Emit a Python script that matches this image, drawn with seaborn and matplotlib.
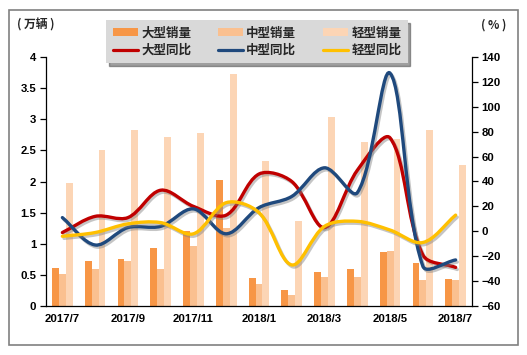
import numpy as np
import pandas as pd
import matplotlib
matplotlib.use('Agg')
import matplotlib.pyplot as plt
import matplotlib.patheffects as pe
from matplotlib.path import Path
from matplotlib.patches import PathPatch, Patch, Rectangle
from matplotlib.lines import Line2D
from matplotlib.ticker import FuncFormatter, MultipleLocator, FixedLocator
import seaborn as sns

# 月份
months = ['2017/7', '2017/8', '2017/9', '2017/10', '2017/11', '2017/12', '2018/1',
          '2018/2', '2018/3', '2018/4', '2018/5', '2018/6', '2018/7']

# 销量（万辆）
large_sales = [0.61, 0.72, 0.75, 0.93, 1.20, 2.02, 0.45, 0.25, 0.55, 0.59, 0.87, 0.69, 0.44]
medium_sales = [0.52, 0.60, 0.73, 0.60, 0.97, 1.25, 0.36, 0.17, 0.47, 0.47, 0.88, 0.42, 0.41]
light_sales = [1.98, 2.50, 2.82, 2.72, 2.78, 3.73, 2.33, 1.37, 3.03, 2.63, 2.69, 2.82, 2.27]

# 同比（%）
large_yoy = [-1, 12, 11, 33, 20, 13, 46, 40, 3, 49, 75, -19, -29]
medium_yoy = [11, -11, 3, 4, 18, -2, 19, 28, 51, 31, 127, -28, -23]
light_yoy = [-4, -1, 6, 7, -2, 23, 15, -27, 4, 8, 1, -9, 13]

sales_names = ['大型销量', '中型销量', '轻型销量']
yoy_names = ['大型同比', '中型同比', '轻型同比']
bar_colors = ['#F79646', '#FAC090', '#FCD5B5']
line_colors = ['#C00000', '#1F497D', '#FFC000']

sns.set_style('white')
plt.rcParams['font.family'] = ['Liberation Sans', 'Noto Sans CJK SC', 'DejaVu Sans']


def smooth_path(xs, ys, sx, sy, t=1/3):
    """Excel 风格的平滑曲线（三次贝塞尔），按屏幕比例计算控制点"""
    P = np.column_stack([np.asarray(xs, float) * sx, np.asarray(ys, float) * sy])
    n = len(P)
    verts = [P[0]]
    codes = [Path.MOVETO]
    for i in range(n - 1):
        p0 = P[i - 1] if i > 0 else P[i]
        p1, p2 = P[i], P[i + 1]
        p3 = P[i + 2] if i + 2 < n else P[i + 1]
        # 出发点控制
        d_prev = np.linalg.norm(p1 - p0)
        d_next = np.linalg.norm(p2 - p1)
        f1 = t * d_next / (d_prev + d_next) if (d_prev + d_next) > 0 else 0
        c1 = p1 + f1 * (p2 - p0)
        # 到达点控制
        d_prev2 = np.linalg.norm(p2 - p1)
        d_next2 = np.linalg.norm(p3 - p2)
        f2 = t * d_prev2 / (d_prev2 + d_next2) if (d_prev2 + d_next2) > 0 else 0
        c2 = p2 - f2 * (p3 - p1)
        verts += [c1, c2, p2]
        codes += [Path.CURVE4] * 3
    verts = np.array(verts) / np.array([sx, sy])
    return Path(verts, codes)


df = pd.DataFrame({
    'month': months * 3,
    'type': [sales_names[0]] * 13 + [sales_names[1]] * 13 + [sales_names[2]] * 13,
    'value': large_sales + medium_sales + light_sales,
})

fig = plt.figure(figsize=(5.27, 3.55), dpi=100)
ax = fig.add_axes([46 / 527, 1 - 306 / 355, 426 / 527, 249 / 355])

sns.barplot(data=df, x='month', y='value', hue='type', hue_order=sales_names,
            palette=bar_colors, width=0.63, saturation=1, linewidth=0,
            legend=False, ax=ax)
ax.set_xlim(-0.5, 12.5)
ax.set_ylim(0, 4)
ax.set_xlabel('')
ax.set_ylabel('')

tick_font = dict(fontsize=8.2, fontweight='bold', color='black')

# x 轴：刻度在类别分界，每两个月一个标签
ax.xaxis.set_major_locator(FixedLocator(np.arange(-0.5, 13, 1)))
ax.xaxis.set_major_formatter(FuncFormatter(lambda v, p: ''))
ax.set_xticks(np.arange(0, 13, 2), [months[i] for i in range(0, 13, 2)], minor=True)
ax.tick_params(axis='x', which='major', direction='out', length=4, width=0.9, color='black')
ax.tick_params(axis='x', which='minor', length=0, pad=6)
for lab in ax.get_xticklabels(minor=True):
    lab.set(**tick_font)

ax.yaxis.set_major_locator(MultipleLocator(0.5))
ax.yaxis.set_major_formatter(FuncFormatter(lambda v, p: f'{v:g}'))
ax.tick_params(axis='y', direction='out', length=4, width=0.9, color='black', pad=3)
for lab in ax.get_yticklabels():
    lab.set(**tick_font)

for s in ['top', 'right']:
    ax.spines[s].set_visible(False)
for s in ['left', 'bottom']:
    ax.spines[s].set_color('black')
    ax.spines[s].set_linewidth(0.9)

# 右轴：同比
ax2 = ax.twinx()
ax2.set_ylim(-60, 140)
ax2.yaxis.set_major_locator(MultipleLocator(20))
ax2.tick_params(axis='y', direction='out', length=4, width=0.9, color='black', pad=3)
for lab in ax2.get_yticklabels():
    lab.set(**tick_font)
for s in ['top', 'left', 'bottom']:
    ax2.spines[s].set_visible(False)
ax2.spines['right'].set_color('black')
ax2.spines['right'].set_linewidth(0.9)

x_pos = np.arange(len(months))
shadow = [pe.SimpleLineShadow(offset=(1.2, -1.5), shadow_color='#7F7F7F', alpha=0.45),
          pe.Normal()]
for vals, col in zip([large_yoy, medium_yoy, light_yoy], line_colors):
    path = smooth_path(x_pos, vals, 32.77, 1.25)
    ax2.add_patch(PathPatch(path, fill=False, edgecolor=col, lw=2.4,
                            capstyle='round', joinstyle='round', path_effects=shadow,
                            zorder=3))

# 图例
handles = []
labels = []
for i in range(3):
    handles.append(Patch(facecolor=bar_colors[i], edgecolor='none'))
    labels.append(sales_names[i])
    handles.append(Line2D([], [], color=line_colors[i], lw=2.3))
    labels.append(yoy_names[i])
leg = fig.legend(handles, labels, ncol=3, loc='upper left',
                 bbox_to_anchor=(100 / 527, 1 - 14 / 355), frameon=True, fancybox=False,
                 shadow=True, facecolor='#D9D9D9', edgecolor='none', framealpha=1,
                 prop=dict(family=['Noto Sans CJK SC'], weight='bold', size=9),
                 handlelength=2.0, handleheight=0.6, handletextpad=0.3,
                 columnspacing=2.1, borderpad=0.5, labelspacing=0.35)

fig.text(36 / 527, 1 - 25 / 355, '( 万辆 )', ha='center', va='center', fontsize=8.5,
         fontweight='bold', family=['Noto Sans CJK SC'])
fig.text(494 / 527, 1 - 25 / 355, '( % )', ha='center', va='center', fontsize=8.5,
         fontweight='bold', family=['Noto Sans CJK SC'])

# 外框
fig.patches.append(Rectangle((9 / 527, 1 - 345 / 355), 509 / 527, 335 / 355,
                             transform=fig.transFigure, fill=False,
                             edgecolor='#808080', lw=1.2))

plt.savefig('out.png', dpi=100)
